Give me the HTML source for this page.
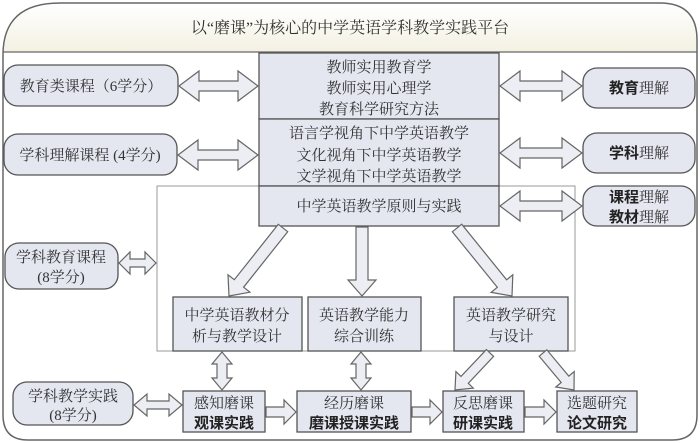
<!DOCTYPE html>
<html><head><meta charset="utf-8"><style>
html,body{margin:0;padding:0;background:#fff;}
svg{display:block;}
text{font-family:"Liberation Serif","Noto Serif CJK SC",serif;font-size:15px;fill:#333;}
.b{font-family:"Liberation Sans","Noto Sans CJK SC",sans-serif;font-weight:bold;fill:#222;}
</style></head><body>
<svg id="s" width="700" height="443" viewBox="0 0 700 443" xmlns="http://www.w3.org/2000/svg">
<defs>
<linearGradient id="tg" x1="0" y1="0" x2="0" y2="1"><stop offset="0" stop-color="#fff"/><stop offset="1" stop-color="#f3f1e2"/></linearGradient>
</defs>
<path d="M3,55 Q3,3 60,3 L660,3 Q697,3 697,40 L697,415 Q697,440 672,440 L28,440 Q3,440 3,415 Z" fill="#fff" stroke="#666" stroke-width="1.5"/>
<path d="M4,52 Q5,4 60,4 L660,4 Q696,4 696,40 L696,52 Z" fill="url(#tg)"/>
<line x1="3" y1="52" x2="697" y2="52" stroke="#666" stroke-width="1.2"/>
<text x="350" y="33" text-anchor="middle" style="font-size:16px" fill="#222">以“磨课”为核心的中学英语学科教学实践平台</text>

<rect x="157" y="186" width="418" height="165" fill="none" stroke="#999" stroke-width="1"/>

<g fill="#e4e6f0" stroke="#555" stroke-width="1.3">
<rect x="259" y="53" width="240" height="66"/>
<rect x="259" y="119" width="240" height="67"/>
<rect x="259" y="186" width="240" height="40"/>
<rect x="4" y="65" width="174" height="41" rx="14"/>
<rect x="4" y="134" width="173" height="41" rx="14"/>
<rect x="5" y="243" width="113" height="46" rx="14"/>
<rect x="13" y="382" width="120" height="43" rx="14"/>
<rect x="583" y="68" width="112" height="40" rx="14"/>
<rect x="583" y="133" width="112" height="40" rx="14"/>
<rect x="583" y="186" width="112" height="40" rx="14"/>
<rect x="173" y="297" width="129" height="54"/>
<rect x="308" y="297" width="113" height="54"/>
<rect x="454" y="297" width="114" height="54"/>
<rect x="183" y="391" width="82" height="41"/>
<rect x="297" y="391" width="114" height="41"/>
<rect x="443" y="391" width="81" height="41"/>
<rect x="557" y="391" width="80" height="41"/>
</g>
<g id="arr" fill="#eceef4" stroke="#666" stroke-width="1.2"></g>

<g text-anchor="middle">
<text x="379" y="72">教师实用教育学</text>
<text x="379" y="93">教师实用心理学</text>
<text x="379" y="114">教育科学研究方法</text>
<text x="379" y="138">语言学视角下中学英语教学</text>
<text x="379" y="160">文化视角下中学英语教学</text>
<text x="379" y="181">文学视角下中学英语教学</text>
<text x="379" y="211">中学英语教学原则与实践</text>
<text x="91" y="91">教育类课程（6学分）</text>
<text x="90" y="160">学科理解课程 (4学分)</text>
<text x="61" y="262">学科教育课程</text>
<text x="61" y="282">(8学分)</text>
<text x="73" y="401">学科教学实践</text>
<text x="73" y="420">(8学分)</text>
<text x="639" y="93"><tspan class="b">教育</tspan>理解</text>
<text x="639" y="158"><tspan class="b">学科</tspan>理解</text>
<text x="639" y="202"><tspan class="b">课程</tspan>理解</text>
<text x="639" y="222"><tspan class="b">教材</tspan>理解</text>
<text x="237" y="320">中学英语教材分</text>
<text x="237" y="341">析与教学设计</text>
<text x="364" y="320">英语教学能力</text>
<text x="364" y="341">综合训练</text>
<text x="511" y="320">英语教学研究</text>
<text x="511" y="341">与设计</text>
<text x="224" y="408">感知磨课</text>
<text x="224" y="428" class="b">观课实践</text>
<text x="354" y="408">经历磨课</text>
<text x="354" y="428" class="b">磨课授课实践</text>
<text x="483" y="408">反思磨课</text>
<text x="483" y="428" class="b">研课实践</text>
<text x="597" y="408">选题研究</text>
<text x="597" y="428" class="b">论文研究</text>
</g>
<script>
(function(){
var g=document.getElementById('arr');
function arrow(x1,y1,x2,y2,w,h,L,dbl){
 var dx=x2-x1,dy=y2-y1,len=Math.sqrt(dx*dx+dy*dy),ux=dx/len,uy=dy/len,px=-uy,py=ux;
 var pts=[];
 function p(a,b){pts.push((x1+ux*a+px*b).toFixed(1)+','+(y1+uy*a+py*b).toFixed(1));}
 if(dbl){p(0,0);p(L,h);p(L,w);}else{p(0,w);}
 p(len-L,w);p(len-L,h);p(len,0);p(len-L,-h);p(len-L,-w);
 if(dbl){p(L,-w);p(L,-h);}else{p(0,-w);}
 var e=document.createElementNS('http://www.w3.org/2000/svg','polygon');
 e.setAttribute('points',pts.join(' '));g.appendChild(e);
}
arrow(179,86,258,86,5,15,20,1);
arrow(178,155,258,155,5,15,20,1);
arrow(500,86,582,86,5,15,20,1);
arrow(500,153,582,153,5,15,20,1);
arrow(500,206,582,206,5,15,20,1);
arrow(119,263,156,263,4,11,11,1);
arrow(134,405,182,405,4,11,13,1);
arrow(283,228,229,296,6,14,16,0);
arrow(362,227,362,296,6,14,16,0);
arrow(457,228,512,296,6,14,16,0);
arrow(222,352,222,390,5,10,12,1);
arrow(361,352,361,390,5,10,12,1);
arrow(490,353,455,390,5,12,14,0);
arrow(543,353,574,390,5,12,14,0);
arrow(266,412,296,412,5,12,12,0);
arrow(412,412,442,412,5,12,12,0);
arrow(525,412,556,412,5,12,12,0);
})();
</script>
</svg>
</body></html>
